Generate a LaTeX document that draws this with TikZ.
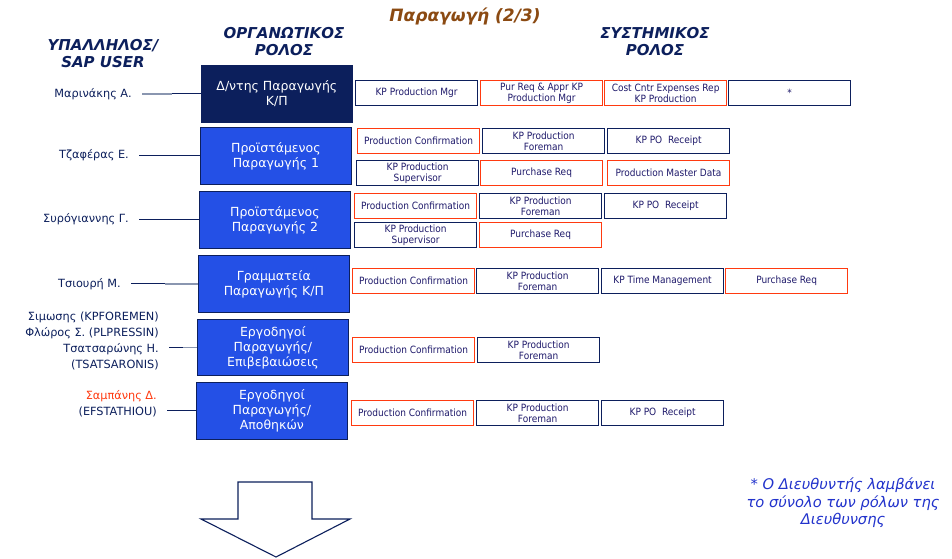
\documentclass[tikz,border=0pt]{standalone}
\usepackage{fontspec}
\setmainfont{DejaVu Sans}
\newfontfamily\condf{DejaVu Sans Condensed}
\definecolor{navy}{HTML}{0C1F5C}
\definecolor{bluebox}{HTML}{2450E6}
\definecolor{redb}{HTML}{FF3A10}
\definecolor{txt}{HTML}{1F1A6B}
\definecolor{brownt}{HTML}{8B4A12}
\definecolor{fnblue}{HTML}{2233CC}
\definecolor{greyl}{HTML}{8A96B0}
\tikzset{
  sysn/.style={draw=navy, line width=1.2pt, minimum width=122pt, minimum height=25pt, inner sep=0pt, anchor=north west, align=center, font=\condf\fontsize{10}{11}\selectfont, text=txt},
  sysr/.style={sysn, draw=redb},
  org/.style={fill=bluebox, draw=navy, line width=0.8pt, minimum width=151pt, minimum height=57pt, anchor=north west, align=center, text=white, font=\fontsize{12.5}{15}\selectfont, inner sep=0pt},
  person/.style={anchor=east, align=right, text=navy, font=\fontsize{11.3}{16}\selectfont, inner sep=0pt},
  head/.style={font=\bfseries\itshape\fontsize{15}{17}\selectfont, text=navy, align=center, inner sep=0pt},
  link/.style={draw=navy, line width=1pt},
  glink/.style={draw=greyl, line width=1.6pt}
}
\begin{document}
\begin{tikzpicture}[x=1pt,y=-1pt]
\useasboundingbox[fill=white] (0,0) rectangle (952,558);
% titles
\node[font=\bfseries\itshape\fontsize{17}{19}\selectfont, text=brownt, inner sep=0pt] (title) at (465,16) {Παραγωγή (2/3)};
\node[head] (h1) at (103,53.5) {ΥΠΑΛΛΗΛΟΣ/\\SAP USER};
\node[head] (h2) at (284,41.5) {ΟΡΓΑΝΩΤΙΚΟΣ\\ΡΟΛΟΣ};
\node[head] (h3) at (655,42) {ΣΥΣΤΗΜΙΚΟΣ\\ΡΟΛΟΣ};
% org boxes
\node[org, fill=navy] (o1) at (201,65) {Δ/ντης Παραγωγής\\Κ/Π};
\node[org] (o2) at (200,127) {Προϊστάμενος\\Παραγωγής 1};
\node[org] (o3) at (199,191) {Προϊστάμενος\\Παραγωγής 2};
\node[org] (o4) at (198,255) {Γραμματεία\\Παραγωγής Κ/Π};
\node[org, minimum height=56pt] (o5) at (197,319) {Εργοδηγοί\\Παραγωγής/\\Επιβεβαιώσεις};
\node[org] (o6) at (196,382) {Εργοδηγοί\\Παραγωγής/\\Αποθηκών};
% persons
\node[person] (p1) at (132,94) {Μαρινάκης Α.};
\node[person] (p2) at (129,155) {Τζαφέρας Ε.};
\node[person] (p3) at (129,219) {Συρόγιαννης Γ.};
\node[person] (p4) at (121,284) {Τσιουρή Μ.};
\node[person] (p5) at (159,341) {Σιμωσης (KPFOREMEN)\\Φλώρος Σ. (PLPRESSIN)\\Τσατσαρώνης Η.\\(TSATSARONIS)};
\node[person] (p6) at (157,404) {{\color{redb}Σαμπάνης Δ.}\\(EFSTATHIOU)};
% links
\draw[link] ([xshift=10pt]p1.east |- o1.west) -- (o1.west) coordinate[pos=0.5] (m1);
\draw[glink] ([xshift=10pt]p1.east |- o1.west) -- (m1);
\draw[link] ([xshift=10pt]p2.east |- o2.west) -- (o2.west);
\draw[link] ([xshift=10pt]p3.east |- o3.west) -- (o3.west);
\draw[link] ([xshift=10pt]p4.east |- o4.west) -- (o4.west) coordinate[pos=0.5] (m4);
\draw[glink] (m4) -- (o4.west);
\draw[link] ([xshift=10pt]p5.east |- o5.west) -- (o5.west) coordinate[pos=0.5] (m5);
\draw[glink] (m5) -- (o5.west);
\draw[link] ([xshift=10pt]p6.east |- o6.west) -- (o6.west);
% row 1
\node[sysn] (s11) at (355,80) {KP Production Mgr};
\node[sysr] (s12) at (480,80) {Pur Req \& Appr KP\\Production Mgr};
\node[sysr] (s13) at (604,80) {Cost Cntr Expenses Rep\\KP Production};
\node[sysn] (s14) at (728,80) {*};
% row 2
\node[sysr] (s21) at (357,128) {Production Confirmation};
\node[sysn] (s22) at (482,128) {KP Production\\Foreman};
\node[sysn] (s23) at (607,128) {KP PO\ \ Receipt};
\node[sysn] (s24) at (356,160) {KP Production\\Supervisor};
\node[sysr] (s25) at (480,160) {Purchase Req};
\node[sysr] (s26) at (607,160) {Production Master Data};
% row 3
\node[sysr] (s31) at (354,193) {Production Confirmation};
\node[sysn] (s32) at (479,193) {KP Production\\Foreman};
\node[sysn] (s33) at (604,193) {KP PO\ \ Receipt};
\node[sysn] (s34) at (354,222) {KP Production\\Supervisor};
\node[sysr] (s35) at (479,222) {Purchase Req};
% row 4
\node[sysr] (s41) at (352,268) {Production Confirmation};
\node[sysn] (s42) at (476,268) {KP Production\\Foreman};
\node[sysn] (s43) at (601,268) {KP Time Management};
\node[sysr] (s44) at (725,268) {Purchase Req};
% row 5
\node[sysr] (s51) at (352,337) {Production Confirmation};
\node[sysn] (s52) at (477,337) {KP Production\\Foreman};
% row 6
\node[sysr] (s61) at (351,400) {Production Confirmation};
\node[sysn] (s62) at (476,400) {KP Production\\Foreman};
\node[sysn] (s63) at (601,400) {KP PO\ \ Receipt};
% footnote
\node[font=\itshape\fontsize{14.7}{17.5}\selectfont, text=fnblue, align=center, inner sep=0pt] (fn) at (843,503) {* Ο Διευθυντής λαμβάνει\\το σύνολο των ρόλων της\\Διευθυνσης};
% arrow
\draw[navy, line width=1.1pt, fill=white, line join=miter] (238,482) -- (312,482) -- (312,519) -- (350,519) -- (276,557) -- (201,519) -- (238,519) -- cycle;
\end{tikzpicture}
\end{document}
